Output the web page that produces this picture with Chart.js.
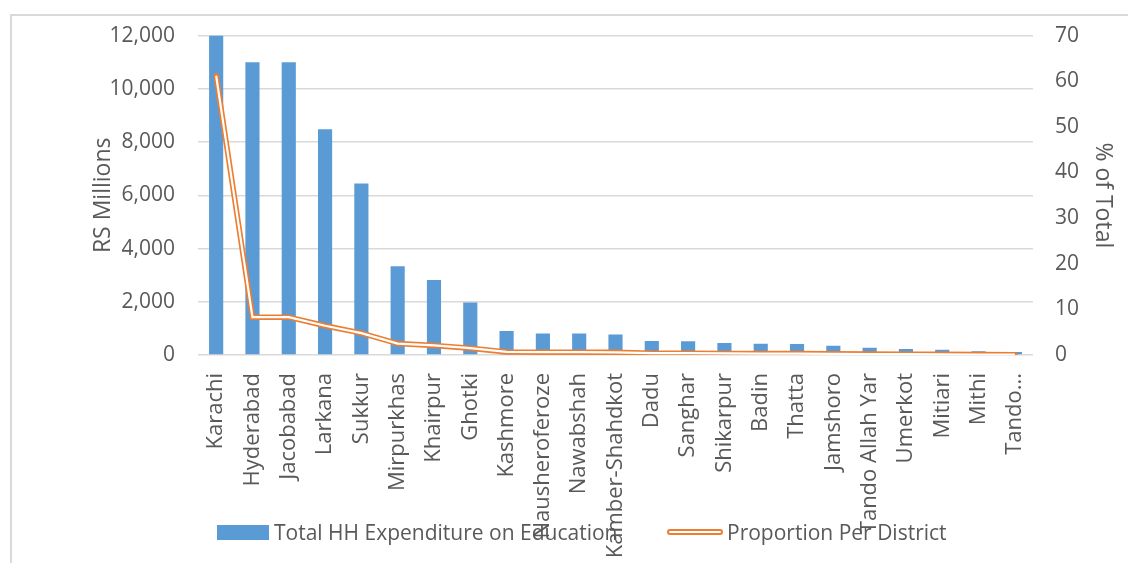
<!DOCTYPE html>
<html>
<head>
<meta charset="utf-8">
<script src="https://cdn.jsdelivr.net/npm/chart.js@4.4.1/dist/chart.umd.min.js"></script>
<style>
  html, body { margin: 0; padding: 0; background: #fff; }
  #wrap { position: relative; width: 1128px; height: 563px; overflow: hidden; }
  #frame { position: absolute; left: 10px; top: 14px; width: 1130px; height: 560px;
           border-top: 2px solid #d9d9d9; border-left: 2px solid #d9d9d9; }
  #chart-1 { position: absolute; left: 0; top: 0; }
  .legend { position: absolute; top: 518px; height: 28px; display: flex; align-items: center;
            font-family: "Open Sans", sans-serif; font-size: 21px; color: #595959; white-space: nowrap; }
  .legend span.box { display: inline-block; }
</style>
</head>
<body>
<div id="wrap">
  <div id="frame"></div>
  <canvas id="chart-1" width="1128" height="563"></canvas>
  <div class="legend" style="left:217px;"><span class="box" style="width:52px;height:15px;background:#5B9BD5;margin-right:5px;"></span>Total HH Expenditure on Education</div>
  <div class="legend" style="left:667px;"><span class="box" style="width:52px;height:2px;border:2px solid #ED7D31;border-radius:3px;margin-right:4px;"></span>Proportion Per District</div>
</div>
<script>
const districts = ["Karachi", "Hyderabad", "Jacobabad", "Larkana", "Sukkur", "Mirpurkhas", "Khairpur", "Ghotki",
  "Kashmore", "Nausheroferoze", "Nawabshah", "Kamber-Shahdkot", "Dadu", "Sanghar", "Shikarpur", "Badin",
  "Thatta", "Jamshoro", "Tando Allah Yar", "Umerkot", "Mitiari", "Mithi", "Tando..."];
// RS millions
const expenditure = [12000, 11000, 11000, 8480, 6440, 3330, 2820, 1970, 900, 810, 810, 770, 530, 520,
  450, 420, 410, 350, 270, 230, 200, 140, 110];
// % of total
const proportion = [61.2, 8.3, 8.3, 6.4, 4.8, 2.5, 2.1, 1.5, 0.68, 0.61, 0.61, 0.58, 0.4, 0.39,
  0.34, 0.32, 0.31, 0.26, 0.2, 0.17, 0.15, 0.11, 0.08];
const leftMax = 12000, leftStep = 2000;
const rightMax = 70, rightStep = 10;

const grey = "#595959";
const font = "'Open Sans', sans-serif";

const ctx1 = document.getElementById("chart-1").getContext("2d");
const myChart = new Chart(ctx1, {
  data: {
    labels: districts,
    datasets: [
      {
        type: "line",
        label: "Proportion Per District",
        data: proportion,
        yAxisID: "y1",
        borderColor: "#ED7D31",
        borderWidth: 5.5,
        borderCapStyle: "round",
        pointRadius: 0,
        order: 1,
      },
      {
        type: "line",
        label: "inner",
        data: proportion,
        yAxisID: "y1",
        borderColor: "#ffffff",
        borderWidth: 2.2,
        pointRadius: 0,
        order: 0,
      },
      {
        type: "bar",
        label: "Total HH Expenditure on Education",
        data: expenditure,
        yAxisID: "y",
        backgroundColor: "#5B9BD5",
        categoryPercentage: 1,
        barPercentage: 0.39,
        order: 2,
      },
    ],
  },
  options: {
    responsive: false,
    animation: false,
    devicePixelRatio: 1,
    layout: { padding: { left: 86, right: 8, top: 29, bottom: 0 } },
    plugins: { legend: { display: false }, tooltip: { enabled: false } },
    scales: {
      x: {
        grid: { display: false, drawTicks: false },
        border: { display: false },
        ticks: { minRotation: 90, maxRotation: 90, padding: 18, autoSkip: false,
                 color: grey, font: { family: font, size: 22 } },
        afterFit: (s) => { s.height = 208; },
      },
      y: {
        position: "left",
        min: 0, max: leftMax,
        grid: { color: "#d9d9d9", lineWidth: 1.5, drawTicks: false },
        border: { display: false },
        ticks: { stepSize: leftStep, padding: 23, color: grey, font: { family: font, size: 21 },
                 callback: (v) => v.toLocaleString("en-US") },
        title: { display: true, text: "RS Millions", color: grey, font: { family: font, size: 23 } },
        afterFit: (s) => { s.width = 112; },
      },
      y1: {
        position: "right",
        min: 0, max: rightMax,
        grid: { display: false, drawTicks: false },
        border: { display: false },
        ticks: { stepSize: rightStep, padding: 22, color: grey, font: { family: font, size: 21 } },
        title: { display: true, text: "% of Total", color: grey, font: { family: font, size: 23 } },
        afterFit: (s) => { s.width = 87; },
      },
    },
  },
});
</script>
</body>
</html>
